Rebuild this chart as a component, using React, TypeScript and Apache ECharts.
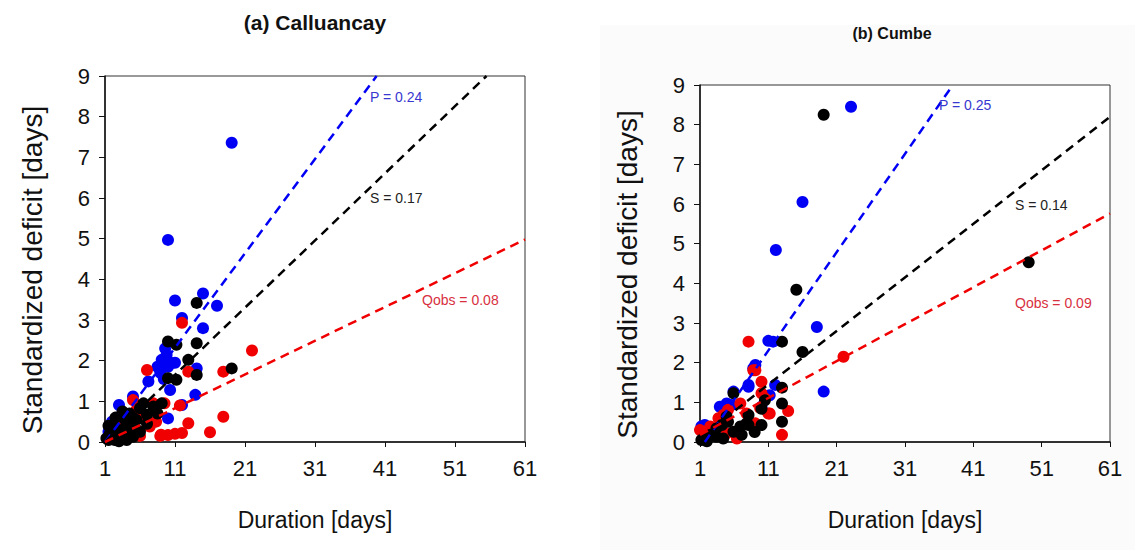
import React, { useEffect, useRef } from "react";
import * as echarts from "echarts";

// ---------- data (Duration [days], Standardized deficit [days]) ----------
const xTicks = [1, 11, 21, 31, 41, 51, 61];

// Panel (a) Calluancay
const aP = [
  [19.1, 7.36], [10, 4.97], [11, 3.48], [15, 3.65], [17, 3.35], [15, 2.8], [12, 3.05],
  [9.1, 2.02], [9.8, 2.14], [10, 1.85], [11, 1.95], [8.9, 1.7], [10.5, 1.94], [7.2, 1.49],
  [10.3, 1.28], [14.1, 1.81], [13.9, 1.16], [12, 0.91], [5, 1.12], [3, 0.91], [10, 0.58],
  [2, 0.5], [9.6, 2.3], [8.5, 1.85], [9.4, 1.55], [1.5, 0.25], [3.5, 0.3],
];
const aQ = [
  [22, 2.25], [12, 2.93], [7, 1.77], [17.9, 1.73], [12.9, 1.73], [17.9, 0.62], [16, 0.24],
  [12.9, 0.46], [9, 0.18], [10, 0.17], [11, 0.2], [12, 0.22], [7.9, 0.95], [5.5, 0.79],
  [5, 1.03], [3.1, 0.46], [7.4, 0.38], [4.8, 0.25], [1.7, 0.13], [8.9, 0.15], [11.7, 0.9],
  [6.5, 0.6], [2.5, 0.3], [4, 0.6], [3.5, 0.1], [6, 0.15], [8.3, 0.5], [9.5, 0.95],
];
const aS = [
  [19.1, 1.81], [14.1, 3.42], [10, 2.47], [11.2, 2.39], [14.1, 2.43], [12.9, 2.02], [14.1, 1.65],
  [10, 1.57], [11.2, 1.53], [9.1, 0.95], [7.9, 0.87], [6, 0.83], [7, 0.67], [5.5, 0.54],
  [3.9, 0.54], [2.4, 0.38], [4.6, 0.38], [1.7, 0.21], [3.1, 0.17], [5, 0.13], [1.2, 0.09],
  [2.4, 0.05], [4.1, 0.05], [6, 0.25], [3.5, 0.3], [4.5, 0.7], [2, 0.1], [5.5, 0.3],
  [3, 0.02], [1.5, 0.4], [7, 0.45], [8.5, 0.7], [6.5, 0.95], [2.5, 0.6], [3.5, 0.75],
  [4, 0.2], [5, 0.6], [1.5, 0.05], [4.3, 0.45],
];
const aLineP = [[1, 0], [39.8, 9]];
const aLineS = [[1, 0], [55.5, 9]];
const aLineQ = [[1, 0], [61, 4.98]];

// Panel (b) Cumbe
const bP = [
  [23.1, 8.45], [16, 6.05], [12.1, 4.84], [18.1, 2.9], [11, 2.55], [11.7, 2.53], [19.1, 1.27],
  [12, 1.44], [10, 0.89], [8.8, 1.86], [9.1, 1.94], [8.1, 1.39], [8.1, 1.44], [5.9, 1.27],
  [4.9, 0.97], [5.6, 0.93], [3.9, 0.89], [4.2, 0.89], [11.2, 1.18], [1.2, 0.39], [1.7, 0.43],
  [2.5, 0.3],
];
const bQ = [
  [8.1, 2.53], [22, 2.15], [9.1, 1.81], [8.8, 1.81], [10, 1.52], [10, 1.23], [10.5, 1.1],
  [11, 0.72], [13.9, 0.78], [13, 0.18], [9.8, 0.86], [6.9, 0.97], [4.4, 0.68], [5.1, 0.81],
  [7.8, 0.72], [2.5, 0.39], [1.5, 0.26], [8.3, 0.47], [9.1, 0.47], [2.7, 0.34], [1, 0.3],
  [4.9, 0.22], [6.4, 0.09], [1.7, 0.18], [3.7, 0.6], [11.2, 0.72],
];
const bS = [
  [19.1, 8.25], [49.1, 4.53], [15.1, 3.84], [16, 2.27], [13, 2.53], [13, 1.37], [13, 0.97],
  [13, 0.51], [10, 0.84], [5.9, 1.23], [8.1, 0.68], [4.9, 0.64], [6.9, 0.39], [4.2, 0.43],
  [2.5, 0.18], [3.4, 0.13], [7.8, 0.47], [5.9, 0.26], [5.1, 0.51], [8.1, 0.43], [10, 0.43],
  [3.4, 0.34], [7.1, 0.18], [1.2, 0.05], [4.4, 0.09], [2, 0.02], [9, 0.25], [10.5, 1.05],
];
const bLineP = [[1.7, 0], [38, 9]];
const bLineS = [[1, 0.1], [61, 8.2]];
const bLineQ = [[1, 0.18], [61, 5.76]];

const titles = ["(a) Calluancay", "(b) Cumbe"];
const labelsA = ["P = 0.24", "S = 0.17", "Qobs = 0.08"];
const labelsB = ["P = 0.25", "S = 0.14", "Qobs = 0.09"];

const BLUE = "#0000f5";
const RED = "#f00000";
const BLACK = "#000000";
const FONT = "Liberation Sans, Arial, sans-serif";

export default function App() {
  const ref = useRef<HTMLDivElement>(null);
  useEffect(() => {
    if (!ref.current) return;
    const chart = echarts.init(ref.current, null, { renderer: "svg" });

    const xAxis = (gi: number) => ({
      type: "value",
      gridIndex: gi,
      min: 1,
      max: 61,
      name: "Duration [days]",
      nameLocation: "middle",
      nameGap: 66,
      nameTextStyle: { fontSize: 23, color: "#111", fontFamily: FONT },
      axisLine: { show: true, onZero: false, lineStyle: { color: "#111", width: 1.5 } },
      axisTick: { show: true, length: 5, customValues: xTicks, lineStyle: { color: "#111" } },
      axisLabel: { customValues: xTicks, fontSize: 22, color: "#111", fontFamily: FONT, margin: 15 },
      splitLine: { show: false },
    });
    const yAxis = (gi: number) => ({
      type: "value",
      gridIndex: gi,
      min: 0,
      max: 9,
      interval: 1,
      name: "Standardized deficit [days]",
      nameLocation: "middle",
      nameGap: 59,
      nameTextStyle: { fontSize: 28, color: "#111", fontFamily: FONT, padding: [0, 22, 0, 0] },
      axisLine: { show: true, onZero: false, lineStyle: { color: "#111", width: 1.5 } },
      axisTick: { show: true, length: 6, lineStyle: { color: "#111" } },
      axisLabel: { fontSize: 22, color: "#111", fontFamily: FONT, margin: 15 },
      splitLine: { show: false },
    });

    const scatter = (gi: number, data: number[][], color: string) => ({
      type: "scatter",
      xAxisIndex: gi,
      yAxisIndex: gi,
      data,
      symbol: "circle",
      symbolSize: 12,
      itemStyle: { color, opacity: 1 },
      z: 3,
    });
    const line = (gi: number, data: number[][], color: string) => ({
      type: "line",
      xAxisIndex: gi,
      yAxisIndex: gi,
      data,
      symbol: "none",
      clip: true,
      lineStyle: { color, width: 2.5, type: [9, 6] },
      z: 4,
    });

    const txt = (x: number, y: number, text: string, color: string) => ({
      type: "text",
      x,
      y,
      style: { text, fill: color, fontSize: 14, fontFamily: FONT, verticalAlign: "middle" },
      z: 10,
    });

    chart.setOption({
      animation: false,
      backgroundColor: "#ffffff",
      grid: [
        { left: 105, top: 76, width: 420, height: 366, show: true, borderColor: "#333", borderWidth: 1, backgroundColor: "#ffffff" },
        { left: 700, top: 85, width: 410, height: 357, show: true, borderColor: "#333", borderWidth: 1, backgroundColor: "#ffffff" },
      ],
      xAxis: [xAxis(0), xAxis(1)],
      yAxis: [yAxis(0), yAxis(1)],
      graphic: [
        { type: "rect", shape: { x: 600, y: 25, width: 535, height: 525 }, style: { fill: "#fbfbfb" }, z: -10, silent: true },
        { type: "text", x: 315, y: 22, style: { text: titles[0], fontSize: 21, fontWeight: "bold", fontFamily: FONT, fill: "#111", align: "center", verticalAlign: "middle" } },
        { type: "text", x: 892, y: 33, style: { text: titles[1], fontSize: 16, fontWeight: "bold", fontFamily: FONT, fill: "#111", align: "center", verticalAlign: "middle" } },
        txt(370, 97, labelsA[0], "#3838d0"),
        txt(370, 198, labelsA[1], "#222"),
        txt(422, 300, labelsA[2], "#d83040"),
        txt(939, 105, labelsB[0], "#3838d0"),
        txt(1015, 205, labelsB[1], "#222"),
        txt(1015, 303, labelsB[2], "#d83040"),
      ],
      series: [
        scatter(0, aP, BLUE),
        scatter(0, aQ, RED),
        scatter(0, aS, BLACK),
        line(0, aLineP, BLUE),
        line(0, aLineS, BLACK),
        line(0, aLineQ, RED),
        scatter(1, bP, BLUE),
        scatter(1, bQ, RED),
        scatter(1, bS, BLACK),
        line(1, bLineP, BLUE),
        line(1, bLineS, BLACK),
        line(1, bLineQ, RED),
      ],
    });
    return () => chart.dispose();
  }, []);
  return (
    <div
      ref={ref}
      style={{ position: "fixed", left: 0, top: 0, width: 1135, height: 550 }}
    />
  );
}
